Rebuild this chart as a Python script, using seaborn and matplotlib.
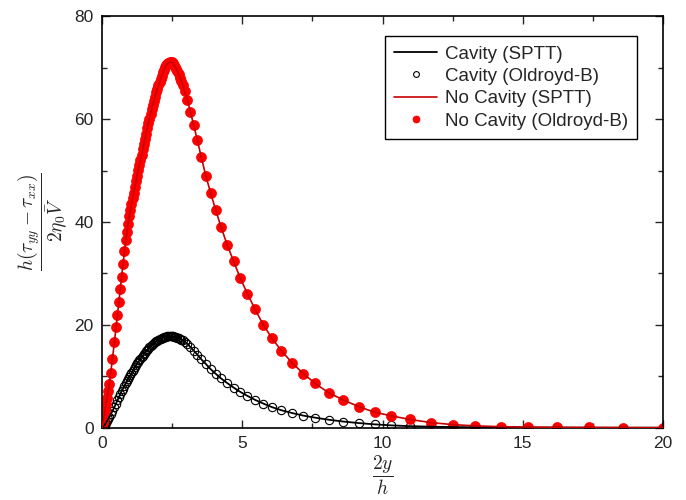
# plot.py
# First normal stress difference across the channel, cavity vs no cavity.

import matplotlib
matplotlib.use('Agg')
import matplotlib.pyplot as plt
from matplotlib.ticker import MultipleLocator
import seaborn as sns

# Data
x_grid = [0, 0.015, 0.03, 0.045, 0.06, 0.08, 0.10, 0.12, 0.15, 0.18, 0.22, 0.26, 0.31, 0.37, 0.44,
          0.50, 0.55, 0.60, 0.65, 0.70, 0.75, 0.80, 0.85,
          0.89, 0.93, 0.97, 1.01, 1.05, 1.09, 1.13, 1.17, 1.21, 1.25,
          1.29, 1.33, 1.37, 1.41, 1.45, 1.49, 1.53, 1.57, 1.61, 1.65,
          1.69, 1.73, 1.77, 1.81, 1.85, 1.89, 1.93, 1.97, 2.01, 2.05,
          2.09, 2.13, 2.17, 2.21, 2.25, 2.29, 2.33, 2.37, 2.41, 2.45,
          2.49, 2.53, 2.57, 2.61, 2.65, 2.69, 2.73,
          2.78, 2.83, 2.88, 2.95, 3.04, 3.15, 3.27, 3.40, 3.54, 3.70, 3.87,
          4.05, 4.24, 4.46, 4.69, 4.92, 5.18, 5.46, 5.75, 6.06, 6.39,
          6.78, 7.18, 7.60, 8.08, 8.60, 9.15, 9.72, 10.32, 10.98,
          11.72, 12.50, 13.31, 14.21, 15.20, 16.23, 17.35, 18.56, 20.0]

nocav_sptt = [0, 0.4, 0.9, 1.3, 1.8, 2.4, 3.0, 3.7, 4.7, 5.7, 7.1, 8.5, 10.7, 13.3, 16.6,
              19.5, 21.9, 24.4, 26.9, 29.4, 31.9, 34.3, 36.5,
              38.1, 39.7, 41.1, 42.4, 43.5, 44.6, 45.7, 46.8, 47.9, 49.0,
              50.1, 51.1, 52.1, 53.1, 54.2, 55.2, 56.2, 57.2, 58.2, 59.2,
              60.1, 61.0, 61.9, 62.8, 63.6, 64.4, 65.2, 65.9, 66.6, 67.3,
              67.9, 68.5, 69.1, 69.6, 70.1, 70.5, 70.8, 71.0, 71.15, 71.2,
              71.1, 70.9, 70.6, 70.2, 69.8, 69.3, 68.8,
              68.1, 67.4, 66.6, 65.4, 63.8, 61.5, 58.8, 55.9, 52.6, 49.0, 45.7,
              42.4, 39.1, 35.6, 32.4, 29.2, 26.1, 23.0, 20.0, 17.4, 15.0,
              12.6, 10.5, 8.6, 6.8, 5.4, 4.1, 3.0, 2.3, 1.6,
              1.0, 0.6, 0.35, 0.2, 0.12, 0.07, 0.04, 0.02, 0.01]

nocav_oldroyd = [0, 0.4, 0.9, 1.3, 1.8, 2.4, 3.0, 3.7, 4.7, 5.7, 7.1, 8.5, 10.7, 13.3, 16.6,
                 19.5, 21.9, 24.4, 26.9, 29.4, 31.9, 34.3, 36.5,
                 38.1, 39.7, 41.1, 42.4, 43.5, 44.6, 45.7, 46.8, 47.9, 49.0,
                 50.1, 51.1, 52.1, 53.1, 54.2, 55.2, 56.2, 57.2, 58.2, 59.2,
                 60.1, 61.0, 61.9, 62.8, 63.6, 64.4, 65.2, 65.9, 66.6, 67.3,
                 67.9, 68.5, 69.1, 69.6, 70.1, 70.5, 70.8, 71.0, 71.15, 71.2,
                 71.1, 70.9, 70.6, 70.2, 69.8, 69.3, 68.8,
                 68.1, 67.4, 66.6, 65.4, 63.8, 61.5, 58.8, 55.9, 52.6, 49.0, 45.7,
                 42.4, 39.1, 35.6, 32.4, 29.2, 26.1, 23.0, 20.0, 17.4, 15.0,
                 12.6, 10.5, 8.6, 6.8, 5.4, 4.1, 3.0, 2.3, 1.6,
                 1.0, 0.6, 0.35, 0.2, 0.12, 0.07, 0.04, 0.02, 0.01]

cav_sptt = [0, 0.05, 0.1, 0.2, 0.3, 0.4, 0.6, 0.75, 1.0, 1.3, 1.7, 2.1, 2.6, 3.2, 4.0,
            4.7, 5.3, 5.9, 6.5, 7.1, 7.6, 8.1, 8.6,
            9.0, 9.4, 9.8, 10.2, 10.6, 11.0, 11.4, 11.8, 12.1, 12.5,
            12.8, 13.1, 13.4, 13.7, 14.0, 14.3, 14.6, 14.9, 15.1, 15.4,
            15.6, 15.85, 16.05, 16.25, 16.45, 16.6, 16.8, 16.95, 17.1, 17.2,
            17.3, 17.4, 17.5, 17.6, 17.65, 17.7, 17.75, 17.8, 17.8, 17.8,
            17.8, 17.75, 17.7, 17.65, 17.6, 17.5, 17.4,
            17.3, 17.15, 17.0, 16.7, 16.3, 15.7, 15.0, 14.2, 13.3, 12.4, 11.4,
            10.5, 9.6, 8.7, 7.8, 7.0, 6.2, 5.4, 4.7, 4.0, 3.4,
            2.85, 2.35, 1.95, 1.55, 1.2, 0.9, 0.65, 0.45, 0.3,
            0.2, 0.12, 0.08, 0.05, 0.03, 0.02, 0.01, 0.0, 0.0]

cav_oldroyd = [0, 0.05, 0.1, 0.2, 0.3, 0.4, 0.6, 0.75, 1.0, 1.3, 1.7, 2.1, 2.6, 3.2, 4.0,
               4.7, 5.3, 5.9, 6.5, 7.1, 7.6, 8.1, 8.6,
               9.0, 9.4, 9.8, 10.2, 10.6, 11.0, 11.4, 11.8, 12.1, 12.5,
               12.8, 13.1, 13.4, 13.7, 14.0, 14.3, 14.6, 14.9, 15.1, 15.4,
               15.6, 15.85, 16.05, 16.25, 16.45, 16.6, 16.8, 16.95, 17.1, 17.2,
               17.3, 17.4, 17.5, 17.6, 17.65, 17.7, 17.75, 17.8, 17.8, 17.8,
               17.8, 17.75, 17.7, 17.65, 17.6, 17.5, 17.4,
               17.3, 17.15, 17.0, 16.7, 16.3, 15.7, 15.0, 14.2, 13.3, 12.4, 11.4,
               10.5, 9.6, 8.7, 7.8, 7.0, 6.2, 5.4, 4.7, 4.0, 3.4,
               2.85, 2.35, 1.95, 1.55, 1.2, 0.9, 0.65, 0.45, 0.3]
x_cav_oldroyd = x_grid[:len(cav_oldroyd)]

labels = ['Cavity (SPTT)', 'Cavity (Oldroyd-B)', 'No Cavity (SPTT)', 'No Cavity (Oldroyd-B)']

sns.set_style('ticks')
plt.rcParams['font.family'] = ['Liberation Sans', 'DejaVu Sans']
plt.rcParams['mathtext.fontset'] = 'cm'

fig = plt.figure(figsize=(6.86, 5.0), dpi=100)
ax = fig.add_axes([0.1487, 0.1446, 0.8178, 0.8226])

# markers first, curves on top
sns.lineplot(x=x_cav_oldroyd, y=cav_oldroyd, sort=False, estimator=None, ax=ax,
             linestyle='', marker='o', markersize=6.0, markerfacecolor='none',
             markeredgecolor='black', markeredgewidth=0.8, label=labels[1], zorder=2)
sns.lineplot(x=x_grid, y=nocav_oldroyd, sort=False, estimator=None, ax=ax,
             linestyle='', marker='o', markersize=7.2, markerfacecolor='#ff0000',
             markeredgecolor='#ff0000', markeredgewidth=0.5, label=labels[3], zorder=2)
sns.lineplot(x=x_grid, y=cav_sptt, sort=False, estimator=None, ax=ax,
             color='black', linewidth=1.3, label=labels[0], zorder=3)
sns.lineplot(x=x_grid, y=nocav_sptt, sort=False, estimator=None, ax=ax,
             color='#c80000', linewidth=1.2, label=labels[2], zorder=3)

ax.set_xlim(0, 20)
ax.set_ylim(0, 80)
ax.xaxis.set_major_locator(MultipleLocator(5))
ax.xaxis.set_minor_locator(MultipleLocator(2.5))
ax.yaxis.set_major_locator(MultipleLocator(20))
ax.yaxis.set_minor_locator(MultipleLocator(10))
ax.tick_params(which='both', direction='in', top=True, right=True, width=1.0,
               labelsize=12.5, pad=6)
ax.tick_params(which='major', length=6)
ax.tick_params(which='minor', length=3.5)
for side in ax.spines.values():
    side.set_linewidth(1.2)
    side.set_color('black')

ax.set_xlabel(r'$\dfrac{2y}{h}$', fontsize=14, labelpad=2)
ax.set_ylabel(r'$\dfrac{h(\tau_{yy}-\tau_{xx})}{2\eta_0\bar{V}}$', fontsize=14, labelpad=4)

handles, found = ax.get_legend_handles_labels()
order = [found.index(name) for name in labels]
leg = ax.legend([handles[i] for i in order], [found[i] for i in order],
                loc='upper right', bbox_to_anchor=(0.954, 0.952), borderaxespad=0,
                fontsize=13.5, frameon=True, fancybox=False, edgecolor='black',
                framealpha=1, handlelength=2.3, handletextpad=0.4, labelspacing=0.28,
                borderpad=0.5, markerscale=0.7)
leg.get_frame().set_linewidth(1.0)

fig.savefig('out.png', dpi=100)
